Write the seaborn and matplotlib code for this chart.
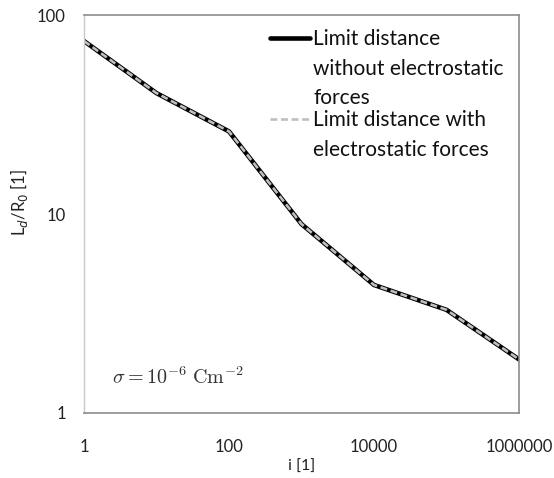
import numpy as np
import pandas as pd
import seaborn as sns
import matplotlib.pyplot as plt
from matplotlib.ticker import FixedLocator, FixedFormatter, NullLocator
from matplotlib.legend_handler import HandlerLine2D

# values (log-log)
i_vals = [1, 10, 100, 1000, 10000, 100000, 1000000]
ld_no_es = [74, 40.5, 26, 8.9, 4.4, 3.3, 1.86]
ld_with_es = [74, 40.5, 26, 8.9, 4.4, 3.3, 1.86]

lab_no = "Limit distance\nwithout electrostatic\nforces"
lab_with = "Limit distance with\nelectrostatic forces"

df = pd.concat([
    pd.DataFrame({"i": i_vals, "Ld": ld_no_es, "case": lab_no}),
    pd.DataFrame({"i": i_vals, "Ld": ld_with_es, "case": lab_with}),
])

sns.set_style("white")
plt.rcParams['font.family'] = ['Lato', 'DejaVu Sans']


class TopHandler(HandlerLine2D):
    # put the legend line next to the first text line, not the middle
    def __init__(self, dy, **kw):
        super().__init__(**kw)
        self.dy = dy

    def create_artists(self, legend, orig_handle, xdescent, ydescent,
                       width, height, fontsize, trans):
        arts = super().create_artists(legend, orig_handle, xdescent, ydescent,
                                      width, height, fontsize, trans)
        for a in arts:
            a.set_ydata(np.asarray(a.get_ydata()) + self.dy)
        return arts


fig = plt.figure(figsize=(5.54, 4.78), dpi=100)
ax = fig.add_axes([0.1516, 0.136, 0.7852, 0.8326])

sns.lineplot(data=df[df["case"] == lab_no], x="i", y="Ld", color="black",
             linewidth=3.3, ax=ax, label=lab_no)
sns.lineplot(data=df[df["case"] == lab_with], x="i", y="Ld", color="#bfbfbf",
             linewidth=1.9, ax=ax, label=lab_with)
ax.lines[1].set_dashes((2.6, 1.4))

ax.set_xscale("log")
ax.set_yscale("log")
ax.set_xlim(1, 1e6)
ax.set_ylim(1, 100)

ax.xaxis.set_major_locator(FixedLocator([1, 100, 10000, 1000000]))
ax.xaxis.set_major_formatter(FixedFormatter(["1", "100", "10000", "1000000"]))
ax.xaxis.set_minor_locator(NullLocator())
ax.yaxis.set_major_locator(FixedLocator([1, 10, 100]))
ax.yaxis.set_major_formatter(FixedFormatter(["1", "10", "100"]))
ax.yaxis.set_minor_locator(NullLocator())

ax.tick_params(axis="both", which="major", direction="out", length=5, width=1,
               color="#8c8c8c", labelsize=12, labelcolor="#222222", pad=8)
ax.tick_params(axis="x", pad=14, length=4.5)

for side in ["top", "right", "bottom"]:
    ax.spines[side].set_color("#8c8c8c")
    ax.spines[side].set_linewidth(1.2)
ax.spines["left"].set_color("#c8c8c8")
ax.spines["left"].set_linewidth(1)

ax.set_xlabel("i [1]", fontsize=11.5, color="#222222")
ax.set_ylabel(r"L$_d$/R$_0$ [1]", fontsize=12, color="#222222")
ax.xaxis.set_label_coords(0.5, -0.118)
ax.yaxis.set_label_coords(-0.125, 0.53)

ax.text(0.065, 0.093, r"$\sigma = 10^{-6}\ \mathrm{Cm}^{-2}$", transform=ax.transAxes,
        fontsize=14.5, color="#333333", va="center", math_fontfamily="cm")

handles, labels = ax.get_legend_handles_labels()
fs = 15
lsp = 1.6
line_sp = fs * lsp * 0.864
leg = ax.legend(handles, labels, loc="upper left", bbox_to_anchor=(0.428, 0.965),
                frameon=False, fontsize=fs, handlelength=1.92, handletextpad=0.14,
                labelspacing=0.1, borderaxespad=0, borderpad=0,
                handler_map={handles[0]: TopHandler(line_sp + 1.8),
                             handles[1]: TopHandler(line_sp / 2 + 1.8)})
for t in leg.get_texts():
    t.set_linespacing(lsp)
    t.set_color("#111111")

plt.savefig("out.png", dpi=100)
